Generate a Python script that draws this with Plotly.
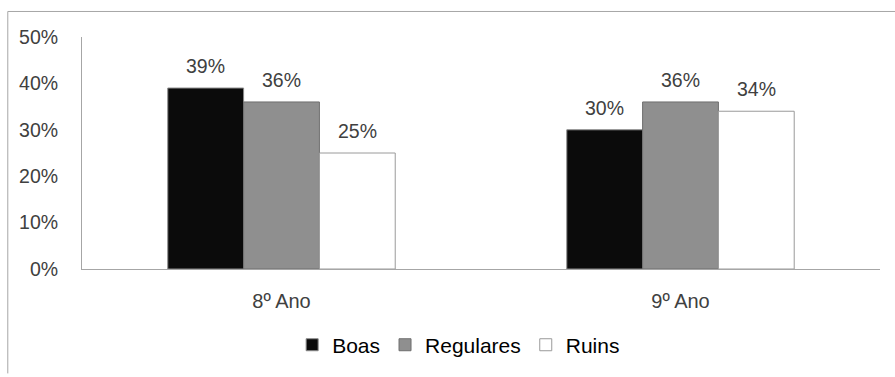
import plotly.graph_objects as go

categories = ["8º Ano", "9º Ano"]
boas = [39, 30]
regulares = [36, 36]
ruins = [25, 34]
tick_vals = [0, 10, 20, 30, 40, 50]
tick_text = ["0%", "10%", "20%", "30%", "40%", "50%"]

font_family = "Liberation Sans, Arial, sans-serif"
label_color = "#404040"
bargap = 0.43

series = [
    ("Boas", boas, "#0b0b0b", "#8a8a8a"),
    ("Regulares", regulares, "#8f8f8f", "#6f6f6f"),
    ("Ruins", ruins, "#ffffff", "#9a9a9a"),
]

fig = go.Figure()
n = len(series)
bar_w = (1 - bargap) / n
for k, (name, vals, fill, edge) in enumerate(series):
    fig.add_trace(go.Bar(
        name=name,
        x=categories,
        y=vals,
        marker=dict(color=fill, line=dict(color=edge, width=1)),
    ))
    # value labels sitting a little above each bar
    offset = (k - (n - 1) / 2) * bar_w
    for i, v in enumerate(vals):
        fig.add_annotation(
            x=i + offset, y=v, xref="x", yref="y",
            text=f"{v}%", showarrow=False,
            yanchor="bottom", yshift=9,
            font=dict(family=font_family, size=19.5, color=label_color),
        )

# Outer chart frame (top and left edges)
frame = dict(color="#a6a6a6", width=1)
fig.add_shape(type="line", xref="paper", yref="paper",
              x0=-0.093, x1=-0.093, y0=1.11, y1=-0.45, line=frame)
fig.add_shape(type="line", xref="paper", yref="paper",
              x0=-0.093, x1=1.05, y0=1.11, y1=1.11, line=frame)

fig.update_layout(
    width=895,
    height=377,
    margin=dict(l=82, r=15, t=37, b=105),
    paper_bgcolor="white",
    plot_bgcolor="white",
    barmode="group",
    bargap=bargap,
    bargroupgap=0,
    font=dict(family=font_family, size=19.5, color=label_color),
    showlegend=True,
    legend=dict(
        orientation="h",
        x=0.472,
        xanchor="center",
        y=-0.328,
        yanchor="middle",
        font=dict(family=font_family, size=21, color="#000000"),
        itemwidth=30,
        tracegroupgap=0,
    ),
    xaxis=dict(
        showline=True,
        linecolor="#a6a6a6",
        linewidth=1,
        ticks="",
        ticklabelstandoff=14,
        tickfont=dict(size=20, color=label_color),
        showgrid=False,
    ),
    yaxis=dict(
        range=[0, 50],
        tickvals=tick_vals,
        ticktext=tick_text,
        showline=True,
        linecolor="#a6a6a6",
        linewidth=1,
        ticks="",
        ticklabelstandoff=19,
        showgrid=False,
        zeroline=False,
        tickfont=dict(size=19.5, color=label_color),
    ),
)

fig.write_html("out.html")
